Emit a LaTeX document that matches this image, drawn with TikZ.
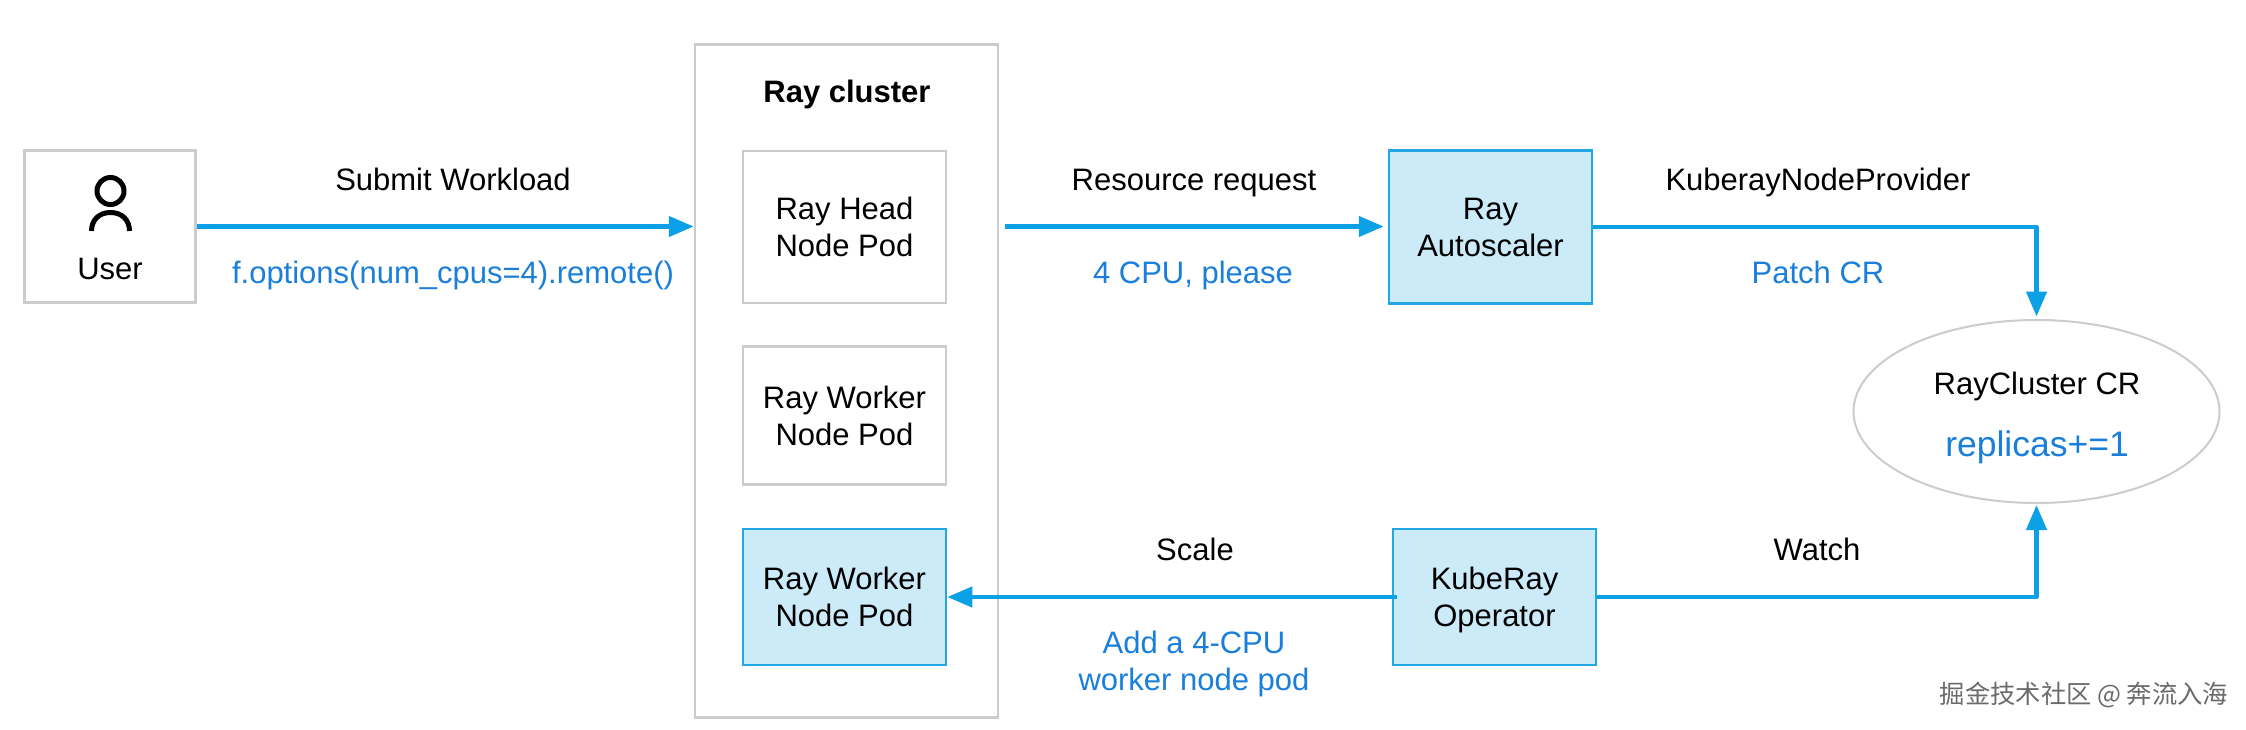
\documentclass[tikz,border=0pt]{standalone}
\usepackage{fontspec}
\setmainfont{Liberation Sans}
\newfontfamily\cjkwm{Noto Sans CJK SC}
\usetikzlibrary{arrows.meta,shapes.geometric,calc}
\definecolor{linegray}{HTML}{CCCCCC}
\definecolor{arrowblue}{HTML}{0CA0E6}
\definecolor{textblue}{HTML}{1A7FDA}
\definecolor{fillblue}{HTML}{CCEBF9}
\definecolor{edgeblue}{HTML}{22A6E4}
\tikzset{
  base/.style={font=\fontsize{31}{37}\selectfont,align=center,inner sep=0pt,text=black},
  graybox/.style={base,draw=linegray,line width=2.5pt,fill=white,minimum width=203pt,minimum height=152pt},
  bluebox/.style={base,draw=edgeblue,line width=2.5pt,fill=fillblue,minimum width=203pt,minimum height=136pt},
  lab/.style={base,text height=23pt,text depth=7pt},
  bluelab/.style={lab,text=textblue},
  flow/.style={draw=arrowblue,line width=4.5pt,-{Triangle[length=25pt,width=20pt]}},
  icon/.style={draw=black,line width=5pt},
}
\begin{document}
\begin{tikzpicture}[x=1pt,y=-1pt]
\useasboundingbox[fill=white] (0,0) rectangle (2246,730);
\node[base,draw=linegray,line width=2.5pt,minimum width=303pt,minimum height=673pt] (cluster) at (846.5,381) {};
\node[base,font=\fontsize{31}{37}\selectfont\bfseries,text height=23pt,text depth=7pt] (title) at (847,95) {Ray cluster};
\node[graybox,minimum width=171pt] (user) at (110,226.5) {};
\node[base] (userlab) at (110,269) {User};
\draw[icon] (110.5,191) circle [radius=13.5pt];
\draw[icon] (91.5,231) .. controls (91.5,220) and (99,212.5) .. (110.5,212.5) .. controls (122,212.5) and (129.5,220) .. (129.5,231);
\node[graybox] (head) at (844.5,227) {Ray Head\\Node Pod};
\node[graybox,minimum height=138pt] (worker) at (844.5,415.5) {Ray Worker\\Node Pod};
\node[bluebox] (newpod) at (844.5,597) {Ray Worker\\Node Pod};
\node[bluebox,minimum height=153pt] (auto) at (1490.5,227) {Ray\\Autoscaler};
\node[bluebox] (oper) at (1494.5,597) {KubeRay\\\smash{Operator}};
\node[ellipse,draw=linegray,line width=2pt,fill=white,minimum width=366pt,minimum height=183pt,inner sep=0pt] (cr) at (2036.5,411.5) {};
\node[base,text height=23pt,text depth=7pt] (crlab) at (2037,386) {RayCluster CR};
\node[base,font=\fontsize{35.5}{42}\selectfont,text=textblue,text height=26pt,text depth=8pt] (replab) at (2037,447) {replicas+=1};
\node[lab] (l1) at (453,183) {Submit Workload};
\node[bluelab] (l2) at (453,275) {f.options(num\_cpus=4).remote()};
\node[lab] (l3) at (1194,183) {Resource request};
\node[bluelab] (l4) at (1193,275) {4 CPU, please};
\node[lab] (l5) at (1818,183) {KuberayNodeProvider};
\node[bluelab] (l6) at (1818,275) {Patch CR};
\node[lab] (l7) at (1195,552) {Scale};
\node[base,text=textblue] (l8) at (1194,664) {Add a 4-CPU\\worker node pod};
\node[lab] (l9) at (1817,552) {Watch};
\node[font=\cjkwm\fontsize{25.3}{30}\selectfont,text=black!58,inner sep=0pt] (wm) at (2084,695) {掘金技术社区 @ 奔流入海};
\draw[flow,shorten >=0pt] (user.east) -- (user.east -| cluster.west);
\draw[flow,shorten <=6pt,shorten >=4pt] (user.east -| cluster.east) -- (auto.west |- user.east);
\draw[flow,line join=round,shorten >=2.5pt] (auto.east) -| (cr.north);
\draw[flow,line join=round,shorten >=1pt] (oper.east) -| (cr.south);
\draw[flow,shorten <=-5pt] (oper.west) -- (newpod.east);
\end{tikzpicture}
\end{document}
